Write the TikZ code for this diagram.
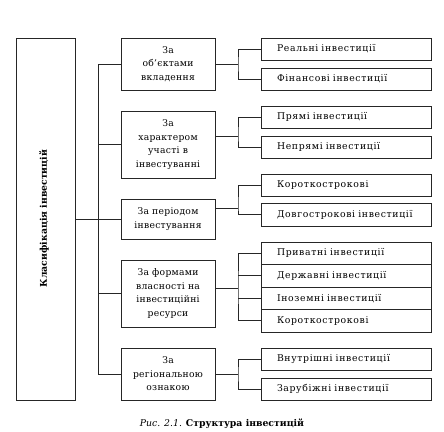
\documentclass[tikz,border=0pt]{standalone}
\usepackage{fontspec}
\setmainfont{DejaVu Serif}
\newfontfamily\catfont[LetterSpace=3]{DejaVu Serif}
\newfontfamily\itemfont[LetterSpace=7]{DejaVu Serif}
\begin{document}
\begin{tikzpicture}[x=1pt,y=-1pt,
  box/.style={draw=black!85, line width=1pt, inner sep=0pt, fill=white},
  cat/.style={box, minimum width=94pt, align=center, font=\catfont\fontsize{9.2}{13.5}\selectfont},
  item/.style={box, minimum width=170pt, minimum height=22pt, text width=138pt, align=left, font=\itemfont\fontsize{9.3}{10}\selectfont},
  conn/.style={draw=black!85, line width=0.9pt}]
\useasboundingbox (0,0) rectangle (444,431);
% main box
\node[box, minimum width=59pt, minimum height=362pt] (main) at (45.5,219) {};
\node[rotate=90, font=\bfseries\fontsize{9.3}{11}\selectfont] (mainlbl) at (44,218.5) {Класифікація інвестицій};
% categories
\node[cat, minimum height=52pt] (c1) at (168,64) {За\\об’єктами\\вкладення};
\node[cat, minimum height=67pt] (c2) at (168,144.5) {За\\характером\\участі в\\інвестуванні};
\node[cat, minimum height=40pt] (c3) at (168,219) {За періодом\\інвестування};
\node[cat, minimum height=67pt] (c4) at (168,293.5) {За формами\\власності на\\інвестиційні\\ресурси};
\node[cat, minimum height=52pt] (c5) at (168,374) {За\\регіональною\\ознакою};
% items
\node[item] (i11) at (346,49) {Реальні інвестиції};
\node[item] (i12) at (346,79) {Фінансові інвестиції};
\node[item] (i21) at (346,117) {Прямі інвестиції};
\node[item] (i22) at (346,147) {Непрямі інвестиції};
\node[item] (i31) at (346,185) {Короткострокові};
\node[item, minimum height=23pt] (i32) at (346,214.5) {Довгострокові інвестиції};
\node[item, minimum height=22.5pt] (i41) at (346,253.25) {Приватні інвестиції};
\node[item, minimum height=22.5pt] (i42) at (346,275.75) {Державні інвестиції};
\node[item, minimum height=22.5pt] (i43) at (346,298.25) {Іноземні інвестиції};
\node[item, minimum height=22.5pt] (i44) at (346,320.75) {Короткострокові};
\node[item] (i51) at (346,359) {Внутрішні інвестиції};
\node[item] (i52) at (346,389) {Зарубіжні інвестиції};
% trunk
\coordinate (tk) at (98,0);
\draw[conn] (main.east) -- (c3.west);
\draw[conn] (c1.west) -| (tk |- c5.west) -- (c5.west);
\draw[conn] (c2.west) -- (tk |- c2.west);
\draw[conn] (c4.west) -- (tk |- c4.west);
% brackets
\coordinate (b1) at (238,64);
\coordinate (b2) at (238,136);
\coordinate (b3) at (238,208);
\coordinate (b4) at (238,288);
\coordinate (b5) at (238,374);
\draw[conn] (c1.east |- b1) -- (b1);
\draw[conn] (c2.east |- b2) -- (b2);
\draw[conn] (c3.east |- b3) -- (b3);
\draw[conn] (c4.east |- b4) -- (b4);
\draw[conn] (c5.east |- b5) -- (b5);
\draw[conn] (i11.west) -| (b1) |- (i12.west);
\draw[conn] (i21.west) -| (b2) |- (i22.west);
\draw[conn] (i31.west) -| (b3) |- (i32.west);
\draw[conn] (i41.west) -| (b4) |- (i44.west);
\draw[conn] (i42.west) -- (i42.west -| b4);
\draw[conn] (i43.west) -- (i43.west -| b4);
\draw[conn] (i51.west) -| (b5) |- (i52.west);
% caption
\node[font=\fontsize{9.3}{11}\selectfont] (cap) at (222,424) {\textit{Рис. 2.1.} \textbf{Структура інвестицій}};
\end{tikzpicture}
\end{document}
